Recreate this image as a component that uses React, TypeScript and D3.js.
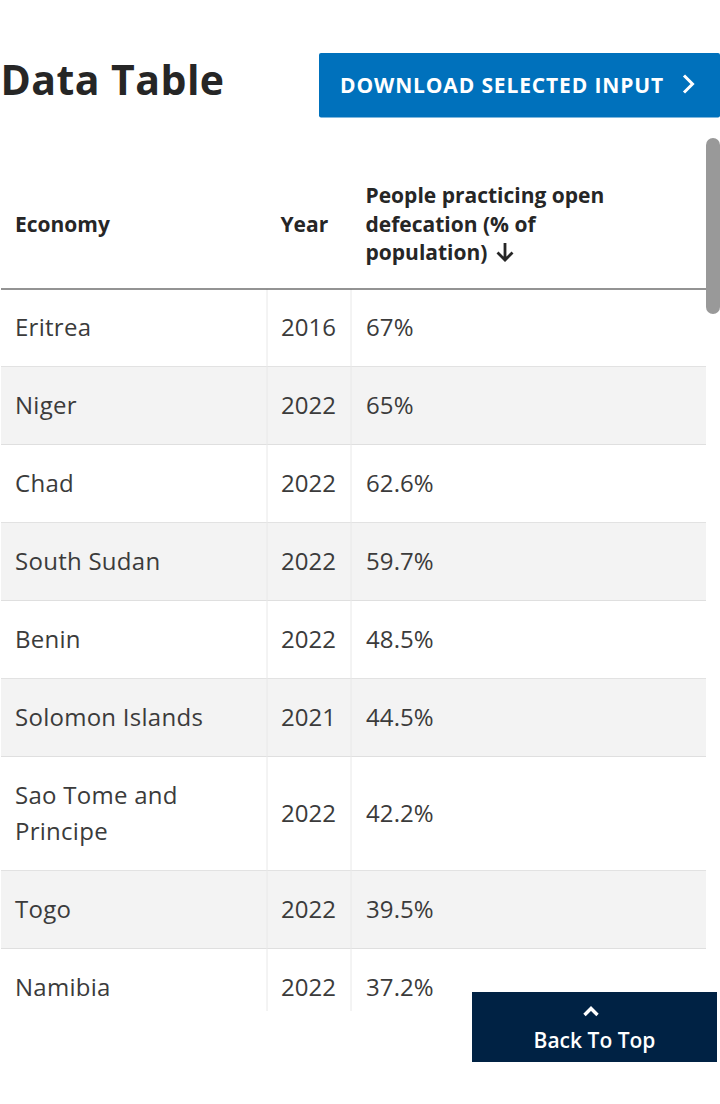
import React from "react";
import * as d3 from "d3";

const economies = [
	["Eritrea"],
	["Niger"],
	["Chad"],
	["South Sudan"],
	["Benin"],
	["Solomon Islands"],
	["Sao Tome and", "Principe"],
	["Togo"],
	["Namibia"],
];
const years = [2016, 2022, 2022, 2022, 2022, 2021, 2022, 2022, 2022];
const openDefecation = [67, 65, 62.6, 59.7, 48.5, 44.5, 42.2, 39.5, 37.2];
const headerLines = ["People practicing open", "defecation (% of", "population)"];

const WIDTH = 720;
const HEIGHT = 1104;
const FONT = "'Open Sans', 'Noto Sans', sans-serif";
const TEXT = "#3b3b3b";
const INK = "#262626";

// row heights depend on how many lines the economy name wraps to
const rowUnits = economies.map((e) => e.length + 1.165);
const rowEdges = [0, ...d3.cumsum(rowUnits)];
const y = d3
	.scaleLinear()
	.domain([0, rowUnits[0]])
	.range([289, 367]);

const x = d3
	.scaleOrdinal<string, number>()
	.domain(["economy", "year", "value", "end"])
	.range([1, 267, 351, 706]);

export default function App() {
	return (
		<svg
			width={WIDTH}
			height={HEIGHT}
			viewBox={`0 0 ${WIDTH} ${HEIGHT}`}
			style={{ position: "absolute", left: 0, top: 0, background: "#fff" }}
			fontFamily={FONT}
		>
			<defs>
				<clipPath id="table-clip">
					<rect x={0} y={138} width={706} height={873} />
				</clipPath>
			</defs>

			<text x={0.5} y={95} fontSize={41} fontWeight={700} fill={INK} letterSpacing={0.45}>
				Data Table
			</text>

			<rect x={319} y={53} width={401} height={64.5} rx={2} fill="#0071bc" />
			<text x={340} y={92.5} fontSize={21} fontWeight={700} fill="#fff" letterSpacing={0.86}>
				DOWNLOAD SELECTED INPUT
			</text>
			<path d="M684 75.5 L692.5 84 L684 92.5" fill="none" stroke="#fff" strokeWidth={3} />

			<g fontSize={21} fontWeight={700} fill={INK}>
				<text x={15} y={232}>Economy</text>
				<text x={280.5} y={232}>Year</text>
				{headerLines.map((line, i) => (
					<text key={line} x={365.5} y={203 + i * 28.5}>
						{line}
					</text>
				))}
				<path
					d="M505 243 V260 M497.5 252.5 L505 260 L512.5 252.5"
					fill="none"
					stroke={INK}
					strokeWidth={2.8}
				/>
			</g>

			<g clipPath="url(#table-clip)">
				{economies.map((lines, i) => {
					const top = y(rowEdges[i]);
					const bottom = y(rowEdges[i + 1]);
					const mid = (top + bottom) / 2;
					return (
						<g key={lines[0]}>
							<rect
								x={x("economy")}
								y={top}
								width={x("end") - x("economy")}
								height={bottom - top}
								fill={i % 2 === 1 ? "#f3f3f3" : "#fff"}
							/>
							<line x1={x("economy")} x2={x("end")} y1={bottom} y2={bottom} stroke="#d8d8d8" strokeWidth={1.5} />
							<line x1={x("year")} x2={x("year")} y1={top} y2={bottom} stroke="#e8e8e8" />
							<line x1={x("value")} x2={x("value")} y1={top} y2={bottom} stroke="#e8e8e8" />
							<g fontSize={24} fill={TEXT}>
								{lines.map((line, j) => (
									<text
										key={line}
										x={15}
										y={mid + 8 + (j - (lines.length - 1) / 2) * 35.5}
										letterSpacing={0.27}
									>
										{line}
									</text>
								))}
								<text x={281} y={mid + 8}>{years[i]}</text>
								<text x={366} y={mid + 8} letterSpacing={0.1}>{`${openDefecation[i]}%`}</text>
							</g>
						</g>
					);
				})}
			</g>

			<line x1={1} x2={706} y1={289} y2={289} stroke="#6f6f6f" strokeWidth={1.5} />
			<rect x={706} y={138} width={14} height={176} rx={7} fill="#999" />

			<rect x={472} y={992} width={245} height={70} fill="#002244" />
			<path d="M584.5 1015 L591 1008.5 L597.5 1015" fill="none" stroke="#fff" strokeWidth={3.4} />
			<text x={594.5} y={1048} textAnchor="middle" fontSize={21} fontWeight={600} fill="#fff">
				Back To Top
			</text>
		</svg>
	);
}
